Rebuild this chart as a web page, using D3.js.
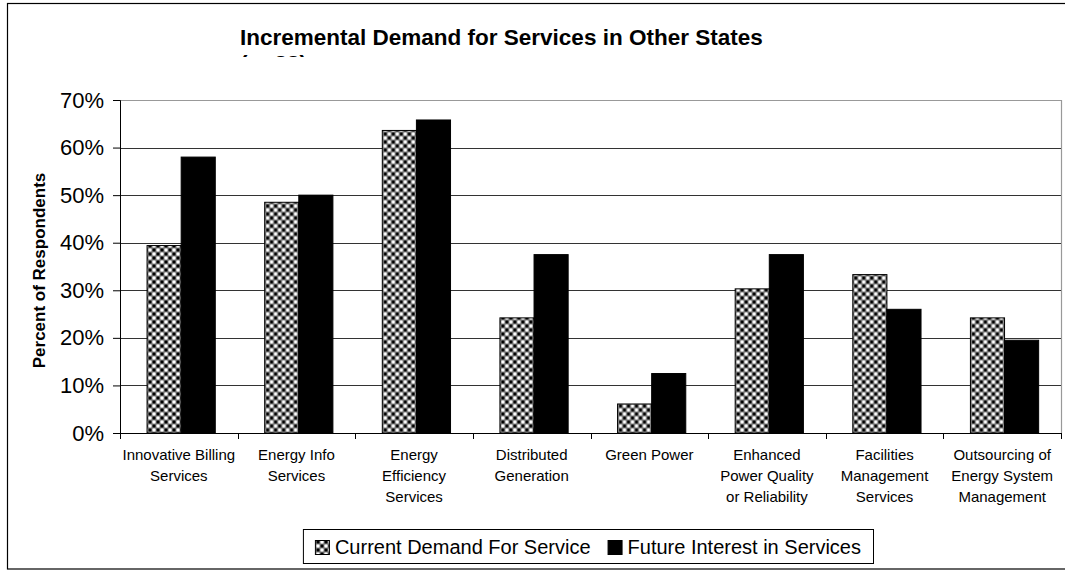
<!DOCTYPE html>
<html>
<head>
<meta charset="utf-8">
<script src="https://cdn.jsdelivr.net/npm/d3@7"></script>
<style>
  html, body { margin: 0; padding: 0; background: #fff; }
  svg { display: block; font-family: "Liberation Sans", Arial, sans-serif; }
</style>
</head>
<body>
<svg id="chart" width="1065" height="571"></svg>
<script>
// Survey results: share of respondents per service
const categories = [
  ["Innovative Billing", "Services"],
  ["Energy Info", "Services"],
  ["Energy", "Efficiency", "Services"],
  ["Distributed", "Generation"],
  ["Green Power"],
  ["Enhanced", "Power Quality", "or Reliability"],
  ["Facilities", "Management", "Services"],
  ["Outsourcing of", "Energy System", "Management"]
];
const currentDemand = [39.4, 48.5, 63.6, 24.2, 6.1, 30.3, 33.3, 24.2];
const futureInterest = [58.0, 50.0, 65.8, 37.5, 12.5, 37.5, 26.0, 19.5];
const seriesNames = ["Current Demand For Service", "Future Interest in Services"];
const yTicks = [0, 10, 20, 30, 40, 50, 60, 70];
const titleLines = ["Incremental Demand for Services in Other States", "(n=33)"];
const yTitle = "Percent of Respondents";

const svg = d3.select("#chart");
const defs = svg.append("defs");

// Checkerboard of black squares and white dots for the current-demand series
const pat = defs.append("pattern")
  .attr("id", "checker")
  .attr("patternUnits", "userSpaceOnUse")
  .attr("width", 8).attr("height", 8);
pat.append("rect").attr("width", 8).attr("height", 8).attr("fill", "#8c8c8c");
[[0, 0], [4, 4]].forEach(([px, py]) =>
  pat.append("rect").attr("x", px + 0.5).attr("y", py + 0.5).attr("width", 3).attr("height", 3).attr("fill", "#000"));
[[4, 0], [0, 4]].forEach(([px, py]) =>
  pat.append("rect").attr("x", px + 0.5).attr("y", py + 0.5).attr("width", 3).attr("height", 3).attr("rx", 1).attr("fill", "#fff"));

const fills = ["url(#checker)", "#000"];

// Outer chart frame
svg.append("rect")
  .attr("x", 7.5).attr("y", 3.5)
  .attr("width", 1070).attr("height", 565.5)
  .attr("fill", "none").attr("stroke", "#000").attr("stroke-width", 1.2);

const plot = { left: 120, right: 1061, top: 100, bottom: 433 };

const x0 = d3.scaleBand()
  .domain(d3.range(categories.length))
  .range([plot.left, plot.right])
  .padding(0);
const bw = x0.bandwidth();
const x1 = d3.scaleBand()
  .domain([0, 1])
  .range([bw * 0.23, bw * 0.81])
  .padding(0);
const y = d3.scaleLinear().domain([0, 70]).range([plot.bottom, plot.top]);

// Plot-area border (gray) on top and right
svg.append("path")
  .attr("d", `M${plot.left},${plot.top + 0.5}H${plot.right + 0.5}V${plot.bottom}`)
  .attr("fill", "none").attr("stroke", "#999").attr("stroke-width", 1.2);

// Horizontal gridlines
svg.append("g")
  .selectAll("line")
  .data(yTicks.filter(t => t > 0 && t < 70))
  .join("line")
  .attr("x1", plot.left).attr("x2", plot.right)
  .attr("y1", d => Math.round(y(d)) + 0.5).attr("y2", d => Math.round(y(d)) + 0.5)
  .attr("stroke", "#333").attr("stroke-width", 1);

// Bars
const groups = svg.append("g")
  .selectAll("g")
  .data(categories.map((c, i) => ({ i, vals: [currentDemand[i], futureInterest[i]] })))
  .join("g")
  .attr("transform", d => `translate(${x0(d.i)},0)`);

groups.selectAll("rect")
  .data(d => d.vals.map((v, s) => ({ v, s })))
  .join("rect")
  .attr("x", d => x1(d.s))
  .attr("y", d => y(d.v))
  .attr("width", x1.bandwidth())
  .attr("height", d => y(0) - y(d.v))
  .attr("fill", d => fills[d.s])
  .attr("stroke", "#000").attr("stroke-width", 1);

// Y axis
const yAxis = d3.axisLeft(y)
  .tickValues(yTicks)
  .tickFormat(d => d + "%")
  .tickSize(7)
  .tickPadding(9);
const yg = svg.append("g")
  .attr("transform", `translate(${plot.left},0)`)
  .call(yAxis);
yg.select(".domain").attr("stroke", "#000");
yg.selectAll(".tick line").attr("stroke", "#000");
yg.selectAll(".tick text")
  .attr("font-size", 22)
  .attr("font-family", "Liberation Sans, Arial, sans-serif")
  .attr("fill", "#000");

// X axis with ticks at category boundaries
const xBoundaries = d3.range(categories.length + 1).map(i => plot.left + i * bw);
svg.append("line")
  .attr("x1", plot.left).attr("x2", plot.right)
  .attr("y1", plot.bottom + 0.5).attr("y2", plot.bottom + 0.5)
  .attr("stroke", "#000");
svg.append("g").selectAll("line")
  .data(xBoundaries)
  .join("line")
  .attr("x1", d => Math.round(d) + 0.5).attr("x2", d => Math.round(d) + 0.5)
  .attr("y1", plot.bottom).attr("y2", plot.bottom + 6)
  .attr("stroke", "#000");

// Category labels
const xl = svg.append("g")
  .selectAll("text")
  .data(categories.map((c, i) => ({ c, i })))
  .join("text")
  .attr("x", d => x0(d.i) + bw / 2)
  .attr("y", 460)
  .attr("text-anchor", "middle")
  .attr("font-size", 15)
  .attr("fill", "#000");
xl.selectAll("tspan")
  .data(d => d.c.map((line, k) => ({ line, k, cx: x0(d.i) + bw / 2 })))
  .join("tspan")
  .attr("x", d => d.cx)
  .attr("dy", d => d.k === 0 ? 0 : 21)
  .text(d => d.line);

// Y axis title
svg.append("text")
  .attr("transform", `translate(45,${(plot.top + plot.bottom) / 2 + 4}) rotate(-90)`)
  .attr("text-anchor", "middle")
  .attr("font-size", 17)
  .attr("font-weight", "bold")
  .text(yTitle);

// Title; the second line is cut off by the title area
defs.append("clipPath").attr("id", "titleClip")
  .append("rect").attr("x", 0).attr("y", 0).attr("width", 1065).attr("height", 57);
const title = svg.append("text")
  .attr("clip-path", "url(#titleClip)")
  .attr("x", 240).attr("y", 45)
  .attr("font-size", 22.5)
  .attr("font-weight", "bold");
title.selectAll("tspan")
  .data(titleLines)
  .join("tspan")
  .attr("x", 240)
  .attr("dy", (d, i) => i === 0 ? 0 : 26)
  .text(d => d);

// Legend: auto-sized box, right edge fixed
const legendRight = 873, legendTop = 529, legendHeight = 34;
const pad = 12, swatch = 14, swGap = 6, itemGap = 17;
const legend = svg.append("g");
const legendBox = legend.append("rect")
  .attr("y", legendTop + 0.5)
  .attr("height", legendHeight)
  .attr("fill", "#fff").attr("stroke", "#000").attr("stroke-width", 1);
const items = legend.selectAll("g.item")
  .data(seriesNames)
  .join("g").attr("class", "item");
items.append("rect")
  .attr("width", swatch).attr("height", swatch)
  .attr("y", 540.5)
  .attr("fill", (d, i) => fills[i])
  .attr("stroke", "#000").attr("stroke-width", 1);
items.append("text")
  .attr("y", 554)
  .attr("font-size", 20)
  .text(d => d);
const widths = [];
items.each(function () {
  widths.push(d3.select(this).select("text").node().getComputedTextLength());
});
const content = d3.sum(widths, w => swatch + swGap + w) + itemGap * (widths.length - 1);
const legendLeft = legendRight - content - 2 * pad;
legendBox.attr("x", legendLeft + 0.5).attr("width", legendRight - legendLeft);
let cursor = legendLeft + pad;
items.each(function (d, i) {
  const g = d3.select(this);
  g.select("rect").attr("x", cursor + 0.5);
  g.select("text").attr("x", cursor + swatch + swGap);
  cursor += swatch + swGap + widths[i] + itemGap;
});
</script>
</body>
</html>
